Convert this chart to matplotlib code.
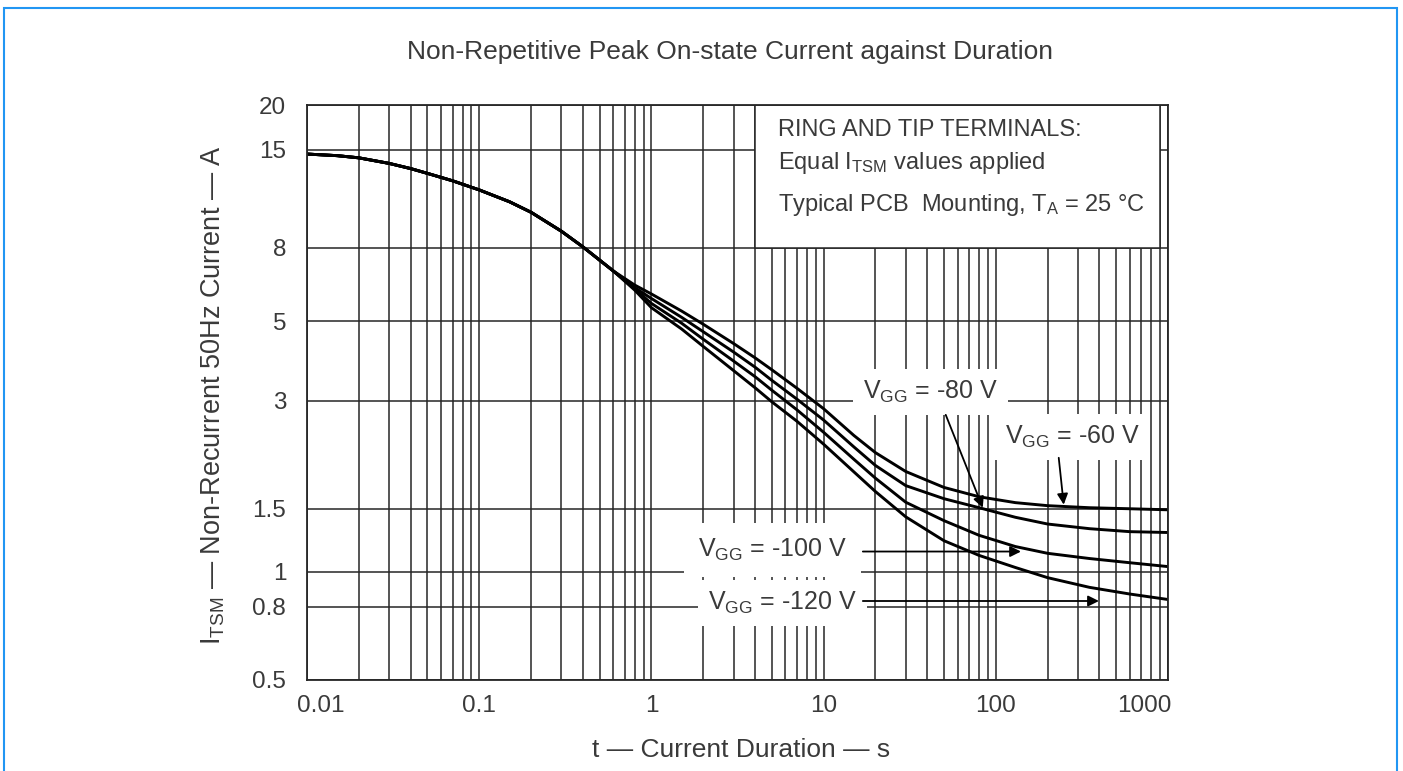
import matplotlib
matplotlib.use("Agg")
import matplotlib.pyplot as plt
import matplotlib.transforms as mtransforms
from matplotlib.patches import Rectangle
from matplotlib.ticker import LogLocator, NullLocator, NullFormatter

plt.rcParams["font.family"] = ["Liberation Sans", "DejaVu Sans"]
plt.rcParams["mathtext.fontset"] = "custom"
plt.rcParams["mathtext.rm"] = "Liberation Sans"
plt.rcParams["mathtext.default"] = "regular"

# current duration, s
t = [0.01, 0.015, 0.02, 0.03, 0.04, 0.05, 0.07, 0.1, 0.15, 0.2, 0.3, 0.4, 0.6,
     0.8, 1, 1.5, 2, 3, 4, 5, 7, 10, 15, 20, 30, 50, 80, 130, 200, 350, 600, 1000]

# I_TSM (A) for each gate voltage
i_60 = [14.6, 14.45, 14.25, 13.75, 13.3, 12.9, 12.3, 11.6, 10.75, 10.05, 8.9, 8.05,
        6.9, 6.3, 5.95, 5.33, 4.9, 4.33, 3.95, 3.66, 3.25, 2.85, 2.40, 2.15, 1.905,
        1.72, 1.62, 1.56, 1.53, 1.51, 1.50, 1.49]
i_80 = [14.6, 14.45, 14.25, 13.75, 13.3, 12.9, 12.3, 11.6, 10.75, 10.05, 8.9, 8.05,
        6.9, 6.2, 5.78, 5.12, 4.67, 4.1, 3.72, 3.42, 3.03, 2.65, 2.23, 1.98, 1.74,
        1.60, 1.51, 1.42, 1.36, 1.32, 1.295, 1.288]
i_100 = [14.6, 14.45, 14.25, 13.75, 13.3, 12.9, 12.3, 11.6, 10.75, 10.05, 8.9, 8.05,
         6.9, 6.15, 5.6, 4.93, 4.45, 3.87, 3.5, 3.21, 2.83, 2.45, 2.06, 1.825, 1.564,
         1.39, 1.265, 1.177, 1.127, 1.09, 1.061, 1.035]
i_120 = [14.6, 14.45, 14.25, 13.75, 13.3, 12.9, 12.3, 11.6, 10.75, 10.05, 8.9, 8.05,
         6.9, 6.1, 5.45, 4.75, 4.25, 3.64, 3.26, 2.98, 2.63, 2.27, 1.90, 1.675, 1.424,
         1.222, 1.112, 1.029, 0.964, 0.906, 0.868, 0.838]

x_ticks = [0.01, 0.1, 1, 10, 100, 1000]
x_labels = ["0.01", "0.1", "1", "10", "100", "1000"]
y_ticks = [0.5, 0.8, 1, 1.5, 3, 5, 8, 15, 20]
y_labels = ["0.5", "0.8", "1", "1.5", "3", "5", "8", "15", "20"]

GRID = "#262626"
TXT = "#3a3a3a"

fig = plt.figure(figsize=(14.03, 7.71), dpi=100)
ax = fig.add_axes([307 / 1403, 1 - 680 / 771, (1168 - 307) / 1403, (680 - 105) / 771])

ax.set_xscale("log")
ax.set_yscale("log")
ax.set_xlim(0.01, 1000)
ax.set_ylim(0.5, 20)

ax.set_xticks(x_ticks, x_labels)
ax.xaxis.set_minor_locator(LogLocator(base=10, subs=range(2, 10)))
ax.xaxis.set_minor_formatter(NullFormatter())
ax.set_yticks(y_ticks, y_labels)
ax.yaxis.set_minor_locator(NullLocator())

ax.set_axisbelow(True)
ax.grid(True, which="both", axis="x", color=GRID, lw=1.1)
ax.grid(True, which="major", axis="y", color=GRID, lw=1.1)
for s in ax.spines.values():
    s.set_color(GRID)
    s.set_linewidth(1.3)

ax.tick_params(which="both", length=0, labelsize=17.5, colors=TXT)
ax.tick_params(axis="x", pad=11)
ax.tick_params(axis="y", pad=15)

# nudge the end labels inwards like the datasheet
lbls = ax.get_xticklabels()
lbls[0].set_transform(lbls[0].get_transform()
                      + mtransforms.ScaledTranslation(0.14, 0, fig.dpi_scale_trans))
lbls[-1].set_transform(lbls[-1].get_transform()
                       + mtransforms.ScaledTranslation(-0.24, 0, fig.dpi_scale_trans))

# curves
for vals in (i_60, i_80, i_100, i_120):
    ax.plot(t, vals, color="black", lw=2.1, zorder=2,
            solid_capstyle="round", solid_joinstyle="round")

# conditions box
ax.add_patch(Rectangle((4, 8), 900 - 4, 20 - 8, facecolor="white",
                       edgecolor=GRID, lw=1.1, zorder=1))
fs_box = 17
ax.text(0.547, 0.956, "RING AND TIP TERMINALS:", transform=ax.transAxes,
        fontsize=fs_box, color=TXT, va="center", zorder=3)
ax.text(0.547, 0.899, "Equal I$_{TSM}$ values applied", transform=ax.transAxes,
        fontsize=fs_box, color=TXT, va="center", zorder=3)
ax.text(0.547, 0.826, "Typical PCB  Mounting, T$_A$ = 25 °C", transform=ax.transAxes,
        fontsize=fs_box, color=TXT, va="center", zorder=3)

# curve labels
fs_lab = 18
bb = dict(boxstyle="square,pad=0.4", facecolor="white", edgecolor="none")
ax.text(41.9, 3.17, "V$_{GG}$ = -80 V", fontsize=fs_lab, color=TXT,
        ha="center", va="center", bbox=bb, zorder=3)
ax.text(280, 2.38, "V$_{GG}$ = -60 V", fontsize=fs_lab, color=TXT,
        ha="center", va="center", bbox=bb, zorder=3)
ax.text(5.05, 1.15, "V$_{GG}$ = -100 V", fontsize=fs_lab, color=TXT,
        ha="center", va="center", zorder=3,
        bbox=dict(boxstyle="square,pad=0.55", facecolor="white", edgecolor="none"))
ax.text(5.8, 0.82, "V$_{GG}$ = -120 V", fontsize=fs_lab, color=TXT,
        ha="center", va="center", bbox=bb, zorder=3)

arrow = dict(arrowstyle="-|>", color="black", lw=1.3, mutation_scale=16,
             shrinkA=0, shrinkB=0)
ax.annotate("", xy=(84, 1.51), xytext=(51.2, 2.74), arrowprops=arrow, zorder=4)
ax.annotate("", xy=(248, 1.54), xytext=(232, 2.08), arrowprops=arrow, zorder=4)
ax.annotate("", xy=(140, 1.14), xytext=(16.9, 1.14), arrowprops=arrow, zorder=4)
ax.annotate("", xy=(397, 0.83), xytext=(16.9, 0.83), arrowprops=arrow, zorder=4)

# titles
fig.text(730 / 1403, 1 - 52 / 771, "Non-Repetitive Peak On-state Current against Duration",
         fontsize=19, color=TXT, ha="center", va="center")
fig.text(741 / 1403, 1 - 750 / 771, "t — Current Duration — s",
         fontsize=19, color=TXT, ha="center", va="center")
fig.text(213 / 1403, 1 - 395 / 771, "I$_{TSM}$ — Non-Recurrent 50Hz Current — A",
         fontsize=19.5, color=TXT, ha="center", va="center", rotation=90)

# outer blue frame
fig.add_artist(Rectangle((4 / 1403, -0.05), (1397 - 4) / 1403, 1.05 - 8 / 771,
                         transform=fig.transFigure, fill=False,
                         edgecolor="#2196F3", lw=1.5))

fig.savefig("out.png", dpi=100)
